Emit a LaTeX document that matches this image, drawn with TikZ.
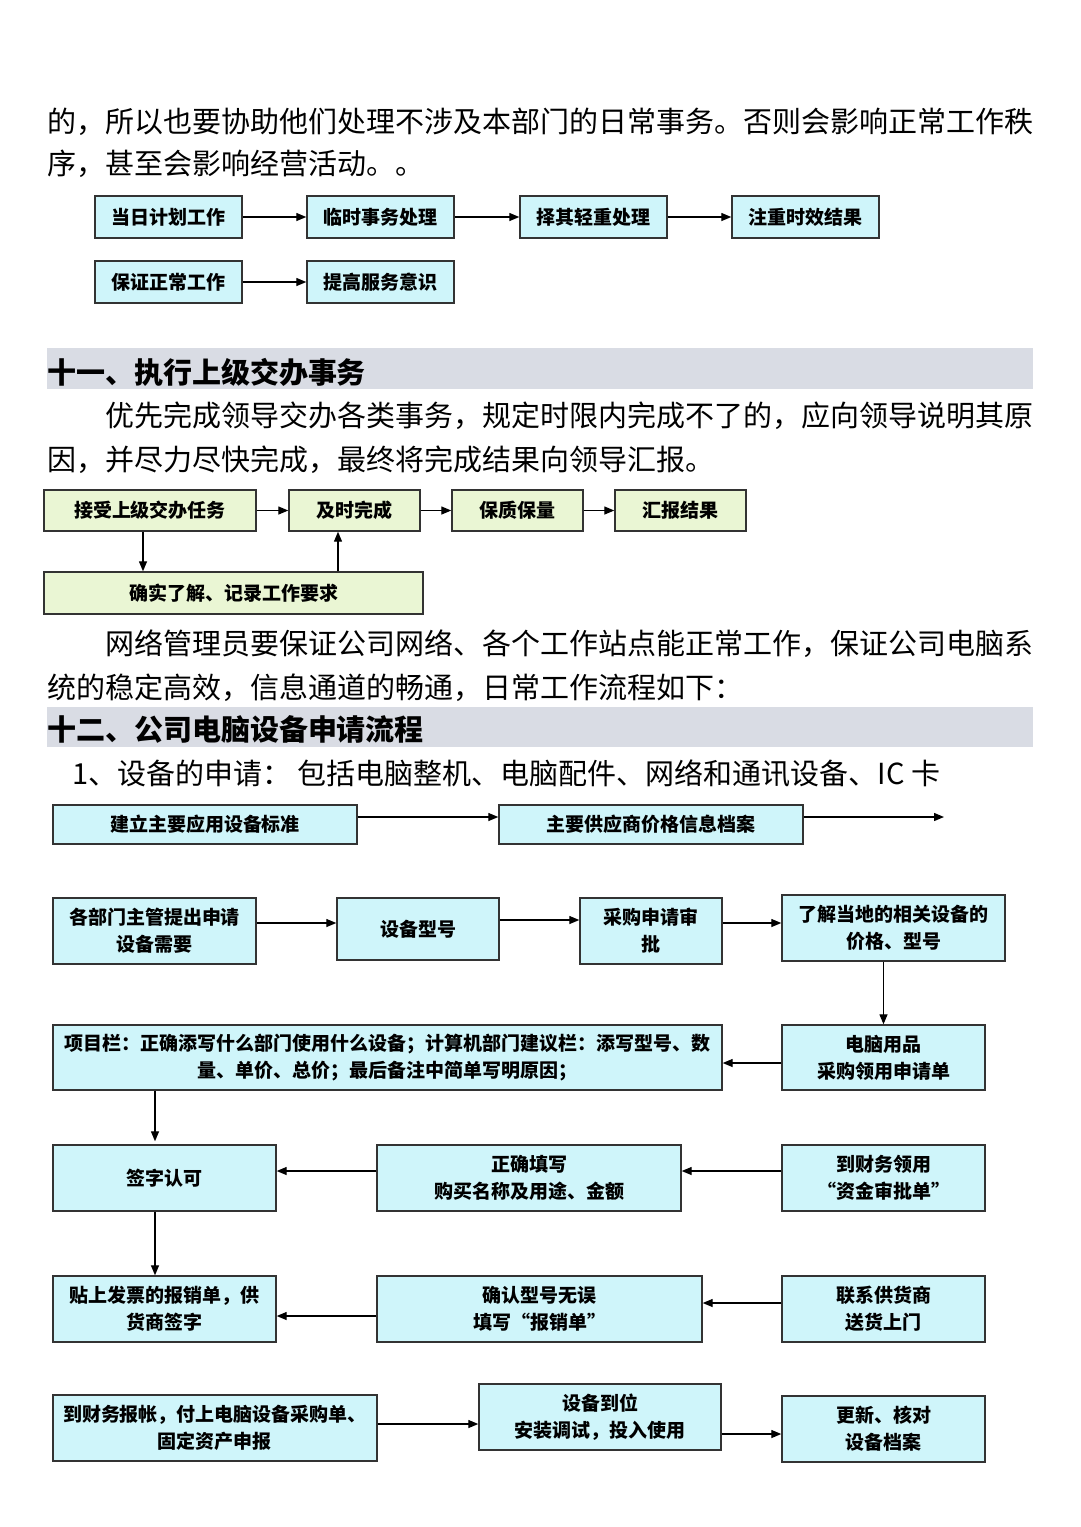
\documentclass[tikz,border=0pt]{standalone}
\usepackage{fontspec}
\setmainfont{Noto Sans CJK SC}
\usetikzlibrary{positioning, calc, arrows.meta}
\definecolor{Edge}{HTML}{333333}
\definecolor{Cyan}{HTML}{CFF5FA}
\definecolor{Pale}{HTML}{EAF6D4}
\definecolor{Band}{HTML}{D9DCE4}
\newcommand{\flowfont}{\fontsize{19}{27}\selectfont\bfseries}
\newcommand{\parafont}{\fontsize{29}{29}\selectfont}
\newcommand{\secfont}{\fontsize{29}{29}\selectfont\bfseries}
\tikzset{
    cyanbox/.style={rectangle, draw=Edge, line width=1.4pt, fill=Cyan, align=center, inner sep=0pt, font=\flowfont},
    greenbox/.style={cyanbox, fill=Pale},
    band/.style={rectangle, fill=Band, inner sep=0pt, minimum width=986pt},
    bodytext/.style={anchor=west, inner sep=0pt, font=\parafont},
    headtext/.style={anchor=west, inner sep=0pt, font=\secfont},
    arrow/.style={-{Triangle[length=10pt, width=8pt]}, line width=1.3pt, color=black},
}

\begin{document}
\begin{tikzpicture}[x=1pt, y=-1pt]
    \useasboundingbox (0,0) rectangle (1080,1527);
    \fill[white] (0,0) rectangle (1080,1527);

    % --- Testo iniziale ---
    \node[bodytext] (p1a) at (47,122) {的，所以也要协助他们处理不涉及本部门的日常事务。否则会影响正常工作秩};
    \node[bodytext] (p1b) at (47,164) {序，甚至会影响经营活动。。};

    % Riga 1
    \node[cyanbox, minimum width=147pt, minimum height=42pt] (dr) at (168.5,217) {当日计划工作};
    \node[cyanbox, minimum width=147pt, minimum height=42pt] (ls) at (380.5,217) {临时事务处理};
    \node[cyanbox, minimum width=147pt, minimum height=42pt] (zq) at (593.5,217) {择其轻重处理};
    \node[cyanbox, minimum width=147pt, minimum height=42pt] (zs) at (805.5,217) {注重时效结果};
    \draw[arrow] (dr) -- (ls);
    \draw[arrow] (ls) -- (zq);
    \draw[arrow] (zq) -- (zs);

    % Riga 2
    \node[cyanbox, minimum width=147pt, minimum height=42pt] (bz) at (168.5,282) {保证正常工作};
    \node[cyanbox, minimum width=147pt, minimum height=42pt] (tg) at (380.5,282) {提高服务意识};
    \draw[arrow] (bz) -- (tg);

    % --- 1. SEZIONE 十一 ---
    \node[band, minimum height=41pt] (h11) at (540,368.5) {};
    \node[headtext] (h11t) at ([yshift=-3.5pt]h11.west) {十一、执行上级交办事务};
    \node[bodytext] (p2a) at (105,416) {优先完成领导交办各类事务，规定时限内完成不了的，应向领导说明其原};
    \node[bodytext] (p2b) at (47,460) {因，并尽力尽快完成，最终将完成结果向领导汇报。};

    \node[greenbox, minimum width=212pt, minimum height=41pt] (js) at (150,510.5) {接受上级交办任务};
    \node[greenbox, minimum width=131pt, minimum height=41pt] (jw) at (354.5,510.5) {及时完成};
    \node[greenbox, minimum width=131pt, minimum height=41pt] (bl) at (517.5,510.5) {保质保量};
    \node[greenbox, minimum width=131pt, minimum height=41pt] (hb) at (680.5,510.5) {汇报结果};
    \node[greenbox, minimum width=379pt, minimum height=42pt] (qr) at (233.5,593) {确实了解、记录工作要求};
    \draw[arrow] (js) -- (jw);
    \draw[arrow] (jw) -- (bl);
    \draw[arrow] (bl) -- (hb);
    \draw[arrow] ([xshift=-7pt]js.south) -- ([xshift=-7pt]js.south |- qr.north);
    \draw[arrow] ([xshift=-16.5pt]jw.south |- qr.north) -- ([xshift=-16.5pt]jw.south);

    \node[bodytext] (p3a) at (105,644) {网络管理员要保证公司网络、各个工作站点能正常工作，保证公司电脑系};
    \node[bodytext] (p3b) at (47,688) {统的稳定高效，信息通道的畅通，日常工作流程如下：};

    % --- 2. SEZIONE 十二 ---
    \node[band, minimum height=40pt] (h12) at (540,727) {};
    \node[headtext] (h12t) at ([yshift=-2pt]h12.west) {十二、公司电脑设备申请流程};
    \node[bodytext] (p4) at (72,773) {1、设备的申请： 包括电脑整机、电脑配件、网络和通讯设备、IC 卡};

    % Standard e fornitori
    \node[cyanbox, minimum width=304pt, minimum height=39pt] (jl) at (205,824.5) {建立主要应用设备标准};
    \node[cyanbox, minimum width=304pt, minimum height=39pt] (gy) at (651,824.5) {主要供应商价格信息档案};
    \coordinate (gyend) at (944,817);
    \draw[arrow] ([yshift=7.5pt]jl.east) -- ([yshift=7.5pt]jl.east -| gy.west);
    \draw[arrow] ([yshift=7.5pt]gy.east) -- (gyend);

    % Richiesta
    \node[cyanbox, minimum width=203pt, minimum height=66pt] (gb) at (154.5,931) {各部门主管提出申请\\设备需要};
    \node[cyanbox, minimum width=162pt, minimum height=62pt] (xh) at (418,929) {设备型号};
    \node[cyanbox, minimum width=142pt, minimum height=66pt] (cg) at (651,931) {采购申请审\\批};
    \node[cyanbox, minimum width=223pt, minimum height=66pt] (lj) at (893.5,928) {了解当地的相关设备的\\价格、型号};
    \draw[arrow] ([yshift=8pt]gb.east) -- ([yshift=8pt]gb.east -| xh.west);
    \draw[arrow] ([yshift=9pt]xh.east) -- ([yshift=9pt]xh.east -| cg.west);
    \draw[arrow] ([yshift=8pt]cg.east) -- ([yshift=8pt]cg.east -| lj.west);

    % Modulo
    \node[cyanbox, minimum width=669pt, minimum height=65pt] (xm) at (387.5,1057.5) {项目栏：正确添写什么部门使用什么设备；计算机部门建议栏：添写型号、数\\量、单价、总价；最后备注中简单写明原因；};
    \node[cyanbox, minimum width=203pt, minimum height=65pt] (dn) at (883.5,1057.5) {电脑用品\\采购领用申请单};
    \draw[arrow] (dn.north |- lj.south) -- (dn.north);
    \draw[arrow] ([yshift=-5.5pt]dn.west) -- ([yshift=-5.5pt]dn.west -| xm.east);

    % Firma
    \node[cyanbox, minimum width=223pt, minimum height=66pt] (qz) at (164.5,1178) {签字认可};
    \node[cyanbox, minimum width=304pt, minimum height=66pt] (zt) at (529,1178) {正确填写\\购买名称及用途、金额};
    \node[cyanbox, minimum width=203pt, minimum height=66pt] (dc) at (883.5,1178) {到财务领用\\“资金审批单”};
    \draw[arrow] ([xshift=-9.5pt]qz.north |- xm.south) -- ([xshift=-9.5pt, yshift=3pt]qz.north);
    \draw[arrow] ([yshift=7pt]dc.west) -- ([yshift=7pt]dc.west -| zt.east);
    \draw[arrow] ([yshift=7pt]zt.west) -- ([yshift=7pt]zt.west -| qz.east);

    % Consegna
    \node[cyanbox, minimum width=223pt, minimum height=66pt] (tf) at (164.5,1309) {贴上发票的报销单，供\\货商签字};
    \node[cyanbox, minimum width=325pt, minimum height=66pt] (qx) at (539.5,1309) {确认型号无误\\填写“报销单”};
    \node[cyanbox, minimum width=203pt, minimum height=66pt] (lx) at (883.5,1309) {联系供货商\\送货上门};
    \draw[arrow] ([xshift=-9.5pt]qz.south) -- ([xshift=-9.5pt]qz.south |- tf.north);
    \draw[arrow] ([yshift=6pt]lx.west) -- ([yshift=6pt]lx.west -| qx.east);
    \draw[arrow] ([yshift=-7pt]qx.west) -- ([yshift=-7pt]qx.west -| tf.east);

    % Chiusura
    \node[cyanbox, minimum width=324pt, minimum height=66pt] (db) at (215,1428) {到财务报帐，付上电脑设备采购单、\\固定资产申报};
    \node[cyanbox, minimum width=242pt, minimum height=66pt] (sb) at (600,1417) {设备到位\\安装调试，投入使用};
    \node[cyanbox, minimum width=203pt, minimum height=66pt] (gx) at (883.5,1429) {更新、核对\\设备档案};
    \draw[arrow] ([yshift=4pt]db.east) -- ([yshift=4pt]db.east -| sb.west);
    \draw[arrow] ([yshift=-17pt]sb.east) -- ([yshift=-17pt]sb.east -| gx.west);
\end{tikzpicture}
\end{document}
